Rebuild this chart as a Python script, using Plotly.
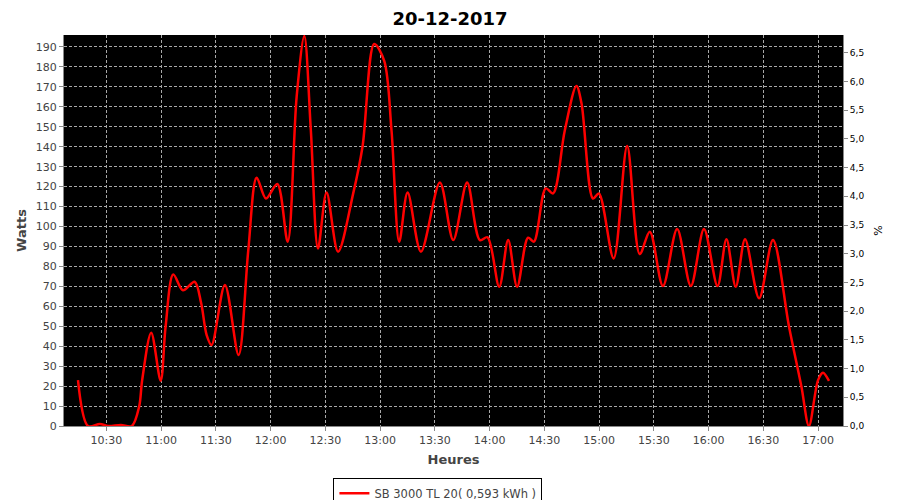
import plotly.graph_objects as go

# --- data ---
times = [
    "10:14:30", "10:20:00", "10:26:30", "10:31:00", "10:38:00", "10:44:00",
    "10:48:00", "10:49:40", "10:54:36", "10:59:48", "11:02:30", "11:06:42",
    "11:12:00", "11:18:24", "11:22:00", "11:25:00", "11:27:42", "11:35:00",
    "11:42:30", "11:47:48", "11:52:24", "11:57:30", "12:03:42", "12:09:24",
    "12:14:18", "12:18:30", "12:22:06", "12:26:00", "12:30:42", "12:37:00",
    "12:45:18", "12:50:24", "12:56:48", "13:02:18", "13:06:18", "13:10:30",
    "13:15:06", "13:22:24", "13:32:48", "13:40:06", "13:47:42", "13:54:42",
    "13:58:54", "14:05:18", "14:10:12", "14:15:06", "14:21:06", "14:24:18",
    "14:30:48", "14:34:48", "14:41:12", "14:47:36", "14:50:24", "14:56:42",
    "14:59:54", "15:08:00", "15:15:24", "15:22:18", "15:27:48", "15:35:00",
    "15:42:48", "15:50:18", "15:57:30", "16:04:54", "16:09:48", "16:14:54",
    "16:20:00", "16:27:42", "16:35:18", "16:44:06", "16:50:54", "16:55:00",
    "17:00:00", "17:02:42", "17:06:00",
]
watts = [
    23, 0, 1, 0, 0.5, 0,
    9.7, 23, 46.8, 22.7, 49.8, 76,
    68, 72.3, 61.5, 45.6, 40.6, 70.7,
    35.6, 88, 124.5, 114, 121.3, 92.4,
    165, 195.5, 148, 89, 117, 87.4,
    116.6, 140, 191.5, 183, 148, 92.4,
    117, 87.4, 122, 93.2, 122, 93.2,
    94.6, 69.8, 93.2, 69.8, 94.4, 92.4,
    119.1, 116.6, 148, 170.4, 161.7, 114,
    116.6, 84, 140.4, 86.2, 97.4, 70.2,
    98.7, 70.2, 98.7, 70.2, 93.6, 69.8,
    93.6, 64, 93.2, 49.8, 19.7, 0,
    23, 26.7, 22.6,
]
day = "2017-12-20"
series_name = "SB 3000 TL 20( 0,593 kWh )"
title_text = "20-12-2017"

x = [f"{day} {t}" for t in times]

fig = go.Figure()
fig.add_trace(go.Scatter(
    x=x, y=watts, mode="lines", name=series_name,
    line=dict(color="#ff0000", width=2.5, shape="spline", smoothing=0.9),
))
# empty trace so the right-hand % axis is drawn
fig.add_trace(go.Scatter(x=[x[0]], y=[None], yaxis="y2", showlegend=False,
                         mode="lines", hoverinfo="skip"))

grid = dict(showgrid=True, gridcolor="#a8a8a8", gridwidth=1, griddash="3px,2px")
tickfont = dict(family="DejaVu Sans", size=11, color="#444444")

# the page body has an 8px margin, so the figure is sized/placed to compensate
fig.update_layout(
    width=884, height=492,
    margin=dict(l=56, r=49, t=27, b=74, autoexpand=False),
    paper_bgcolor="white", plot_bgcolor="black",
    separators=", ",
    title=dict(text=f"<b>{title_text}</b>", x=0.5, xanchor="center",
               y=0.979, yanchor="middle",
               font=dict(family="DejaVu Sans", size=18, color="black")),
    xaxis=dict(
        type="date", automargin=False,
        range=[f"{day} 10:06:50", f"{day} 17:13:40"],
        tick0=f"{day} 10:00", dtick=30 * 60 * 1000, tickformat="%H:%M",
        tickfont=tickfont, ticks="outside", ticklen=4, tickcolor="#888888",
        showline=True, linecolor="#888888", linewidth=1,
        title=dict(text="<b>Heures</b>", standoff=8,
                   font=dict(family="DejaVu Sans", size=13, color="#444444")),
        zeroline=False, **grid,
    ),
    yaxis=dict(
        range=[0, 196], dtick=10, tick0=0, automargin=False,
        tickfont=tickfont, ticks="outside", ticklen=4, tickcolor="#888888",
        showline=True, linecolor="#888888", linewidth=1,
        title=dict(text="<b>Watts</b>", standoff=6,
                   font=dict(family="DejaVu Sans", size=13, color="#444444")),
        zeroline=False, **grid,
    ),
    yaxis2=dict(
        overlaying="y", side="right", range=[0, 6.81], dtick=0.5, tick0=0,
        tickformat=".1f", showgrid=False, zeroline=False, automargin=False,
        tickfont=dict(family="DejaVu Sans", size=9, color="black"),
        ticks="outside", ticklen=4, tickcolor="#888888",
        showline=True, linecolor="#888888", linewidth=1,
        title=dict(text="%", standoff=10,
                   font=dict(family="DejaVu Sans", size=11, color="black")),
    ),
    legend=dict(
        x=0.48, xanchor="center", xref="paper",
        y=0.045, yanchor="top", yref="container", orientation="h",
        bgcolor="white", bordercolor="black", borderwidth=1,
        font=dict(family="DejaVu Sans", size=11.5, color="#444444"),
        itemwidth=30,
    ),
    showlegend=True,
)

fig.write_html("out.html")
